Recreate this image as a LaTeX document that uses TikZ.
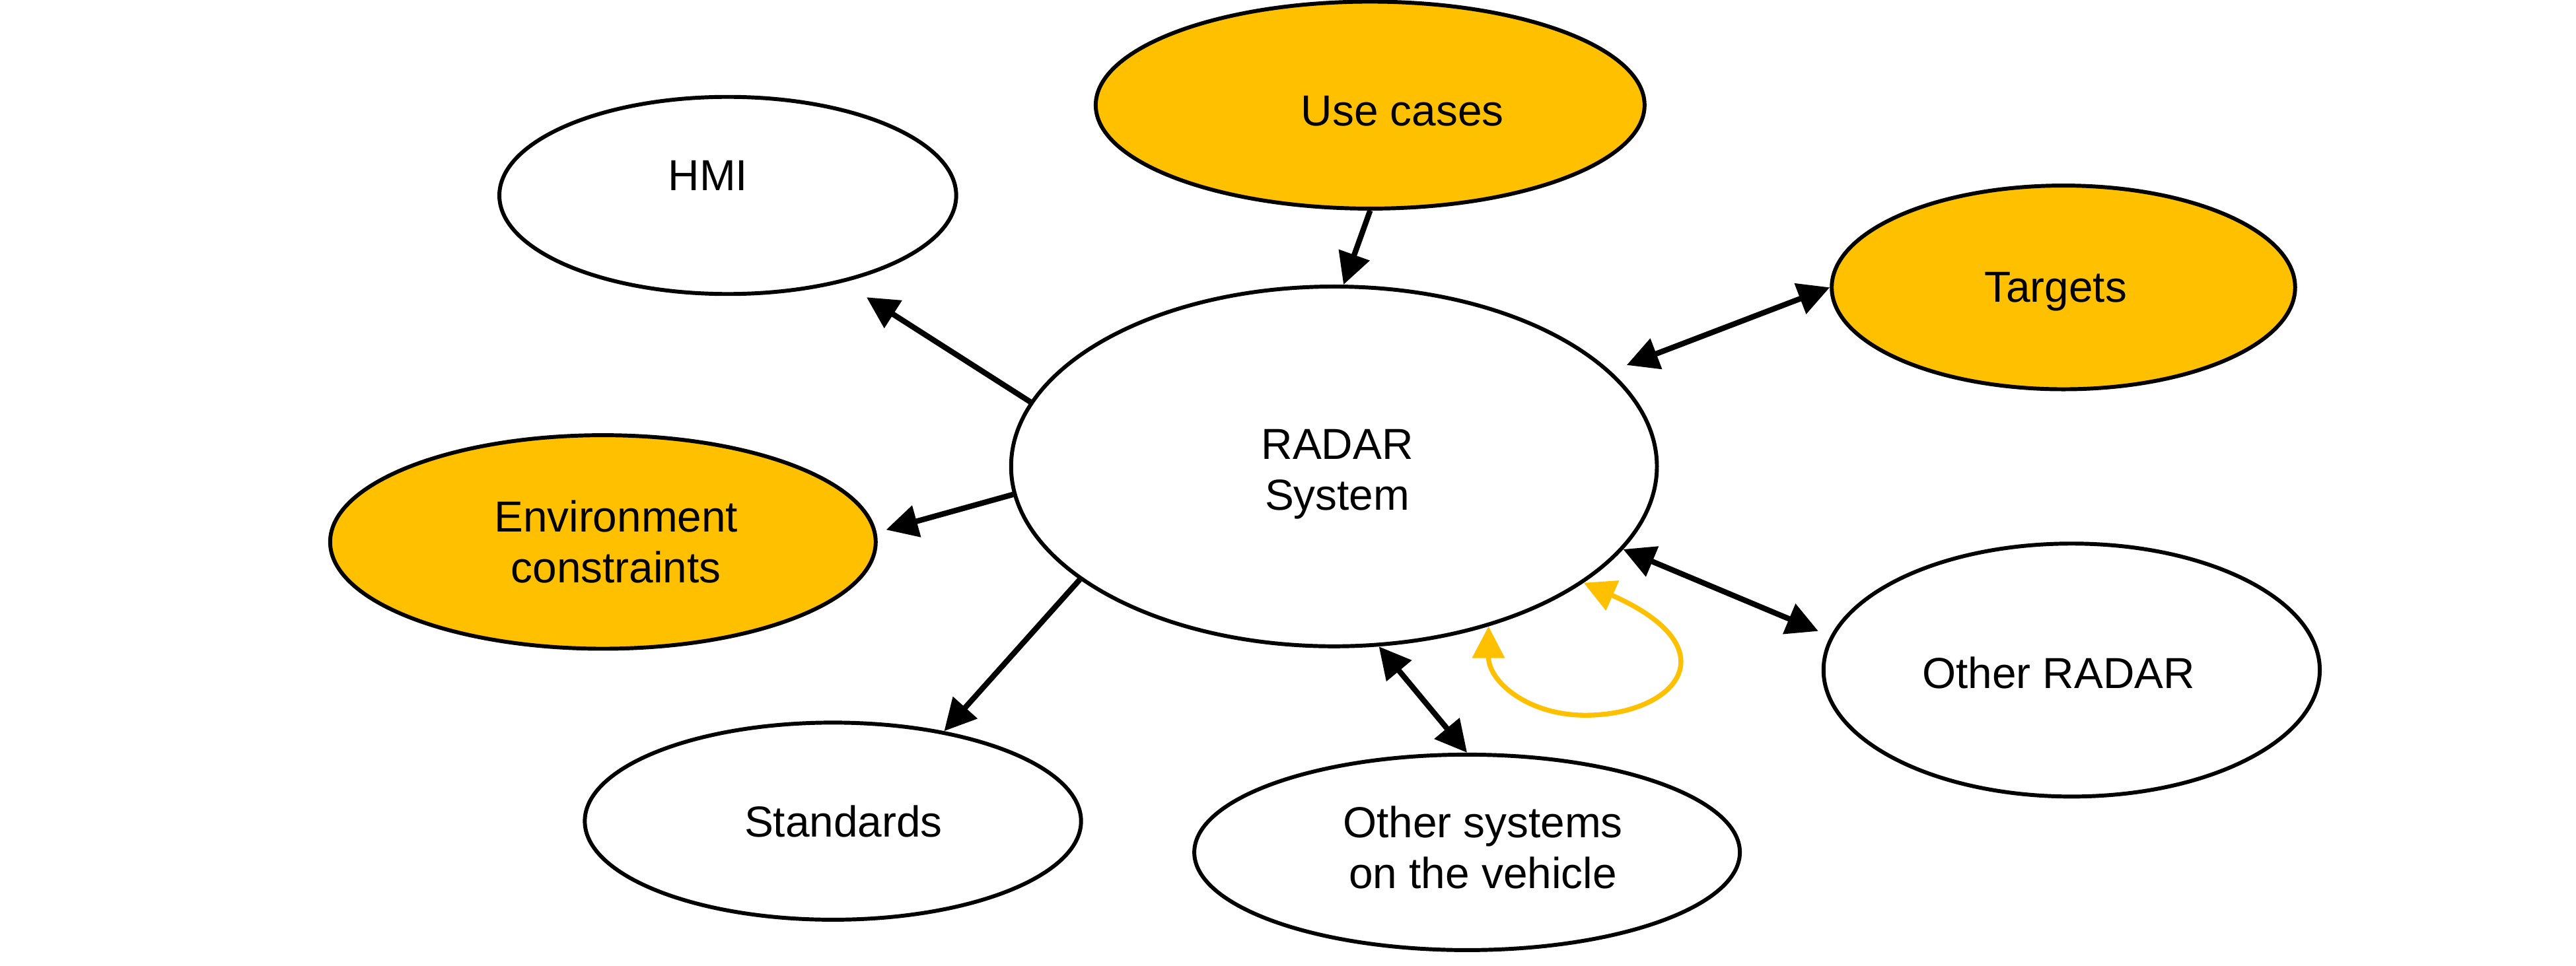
\documentclass[tikz,border=0pt]{standalone}
\usepackage{fontspec}
\setmainfont{Liberation Sans}
\usetikzlibrary{shapes.geometric,arrows.meta}

\definecolor{gold}{RGB}{255,192,0}

\tikzset{
    bubble/.style={ellipse, draw=black, line width=1.7pt, fill=white, inner sep=0pt},
    hot/.style={bubble, fill=gold},
    tri/.tip={Triangle[length=13.7pt, width=13.7pt]},
    link/.style={line width=2.4pt, -tri},
    both/.style={line width=2.4pt, tri-tri},
    selfloop/.style={line width=2.1pt, gold, tri-tri}
}

\begin{document}
\begin{tikzpicture}[x=0.025cm, y=-0.025cm, font=\fontsize{18.8}{22}\selectfont]
    \useasboundingbox (0,0) rectangle (1568,588);
    % context bubbles
    \node[hot, minimum width=8.35cm, minimum height=3.15cm,
        label={[xshift=4.9mm, yshift=-0.9mm]center:Use cases}] (usecases) at (834,64) {};
    \node[bubble, minimum width=6.95cm, minimum height=3.0cm,
        label={[xshift=-3mm, yshift=3mm]center:HMI}] (hmi) at (443,119) {};
    \node[hot, minimum width=7.05cm, minimum height=3.1cm,
        label={[xshift=-1.2mm, yshift=-0.6mm]center:Targets}] (targets) at (1256,175) {};
    \node[bubble, minimum width=9.825cm, minimum height=5.475cm,
        label={[align=center, xshift=0.5mm, yshift=-1.2mm]center:{RADAR\\System}}] (radar) at (812,284) {};
    \node[hot, minimum width=8.3cm, minimum height=3.25cm,
        label={[align=center, xshift=2mm]center:{Environment\\constraints}}] (env) at (367,330) {};
    \node[bubble, minimum width=7.55cm, minimum height=3.85cm,
        label={[xshift=-2mm, yshift=-0.4mm]center:Other RADAR}] (otherradar) at (1261,408) {};
    \node[bubble, minimum width=7.55cm, minimum height=3.0cm,
        label={[xshift=1.6mm]center:Standards}] (standards) at (507,500) {};
    \node[bubble, minimum width=8.3cm, minimum height=2.975cm,
        label={[align=center, xshift=2.4mm, yshift=0.75mm]center:{Other systems\\on the vehicle}}] (othersys) at (893,519) {};
    % connectors
    \draw[link] (usecases.south) -- (radar.87);
    \draw[link, shorten >=4.2mm] (radar.168) -- (hmi.-37);
    \draw[link, shorten >=1.5mm] (radar.185) -- (env.2);
    \draw[link] (radar.204) -- (standards.39);
    \draw[both, shorten <=2.6mm] (radar.19) -- (targets.west);
    \draw[both, shorten >=2mm] (radar.-16) -- (otherradar.172);
    \draw[both] (radar.-76) -- (othersys.north);
    \draw[selfloop] (radar.-46) .. controls (906,415) and (930,435.5) .. (965,435.5)
        .. controls (1020,435.5) and (1055,395) .. (radar.-25);
\end{tikzpicture}
\end{document}
